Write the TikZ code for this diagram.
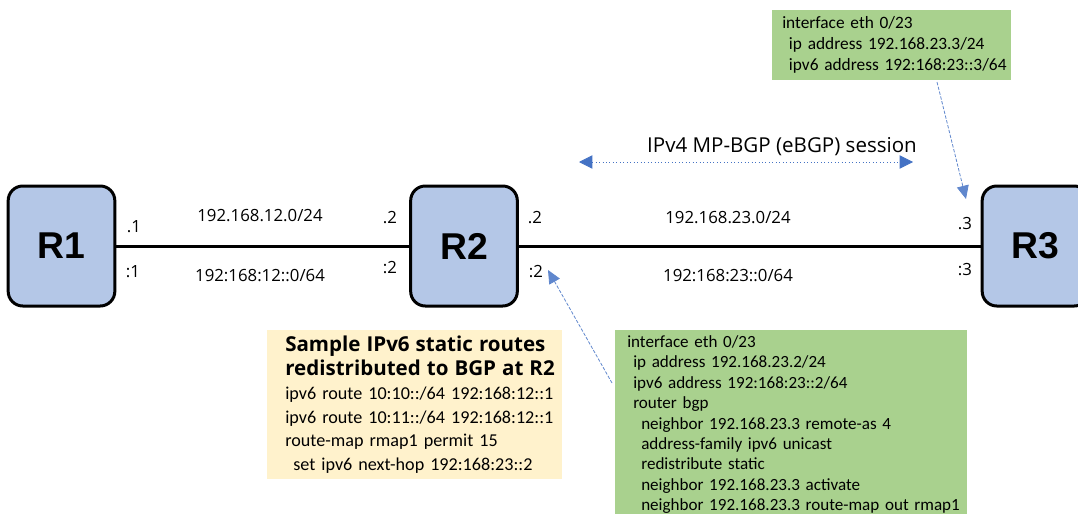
\documentclass[tikz,border=0pt]{standalone}
\usepackage{fontspec}
\usepackage{tikz}
\usetikzlibrary{arrows.meta}
\newfontfamily\lblfont{Open Sans}
\newfontfamily\cfgfont{Carlito}
\newfontfamily\rtrfont{Liberation Sans}

\definecolor{routerblue}{HTML}{B4C7E7}
\definecolor{cfggreen}{HTML}{A9D18E}
\definecolor{noteyellow}{HTML}{FFF2CC}
\definecolor{arrowblue}{HTML}{4472C4}

\tikzset{
  router/.style={draw=black, line width=2.25pt, fill=routerblue, rounded corners=11pt,
    minimum width=80pt, minimum height=90pt, font=\rtrfont\bfseries\fontsize{28}{30}\selectfont},
  lbl/.style={font=\lblfont\fontsize{12.6}{14}\selectfont, inner sep=0pt},
  cfgbox/.style={fill=cfggreen, anchor=north west, align=left, inner ysep=5pt, inner xsep=1pt,
    font=\cfgfont\fontsize{13}{15.5}\selectfont},
  notebox/.style={fill=noteyellow, anchor=north west, align=left, inner ysep=4.5pt, inner xsep=1pt,
    font=\cfgfont\fontsize{13.6}{17.8}\selectfont},
  link/.style={black, line width=2.25pt},
  session/.style={arrowblue, dotted, line width=0.6pt,
    {Triangle[length=10pt,width=10pt]}-{Triangle[length=10pt,width=10pt]}},
  pointer/.style={arrowblue!85, dashed, dash pattern=on 2.5pt off 1.2pt, line width=0.6pt,
    -{Triangle[length=10pt,width=9pt]}}
}

\begin{document}
\begin{tikzpicture}[x=0.75pt,y=-0.75pt]
\useasboundingbox (0,0) rectangle (1078,514);

% routers
\node[router] (r1) at (61.5,246) {R1};
\node[router] (r2) at (464,246) {R2};
\node[router] (r3) at (1035.5,246) {R3};

\draw[link] (r1) -- (r2);
\draw[link] (r2) -- (r3);

% R1 - R2 subnet
\node[lbl] (r1v4) at (134,227) {.1};
\node[lbl] (r1v6) at (133,272) {:1};
\node[lbl] (net12v4) at (260,216) {192.168.12.0/24};
\node[lbl] (net12v6) at (260,276) {192:168:12::0/64};
\node[lbl] (r2v4a) at (390,218) {.2};
\node[lbl] (r2v6a) at (390,268) {:2};

% R2 - R3 subnet
\node[lbl] (r2v4b) at (535,218) {.2};
\node[lbl] (r2v6b) at (536,272) {:2};
\node[lbl] (net23v4) at (728,218) {192.168.23.0/24};
\node[lbl] (net23v6) at (728,276) {192:168:23::0/64};
\node[lbl] (r3v4) at (965,224) {.3};
\node[lbl] (r3v6) at (965,270) {:3};

% BGP session
\node[lbl, font=\lblfont\fontsize{15.4}{17}\selectfont] (bgp) at (782,147) {IPv4 MP-BGP (eBGP) session};
\coordinate (bgpl) at (579,162);
\coordinate (bgpr) at (913,162);
\draw[session] (bgpl) -- (bgpr);

% R3 config
\node[cfgbox, text width=177pt] (cfgr3) at (772,10)
  {\leftskip=6.5pt interface eth 0/23\\
   \hspace*{5pt}ip address 192.168.23.3/24\\
   \hspace*{5pt}ipv6 address 192:168:23::3/64\par};
\coordinate (cfgr3tail) at (937,82);
\coordinate (r3tip) at (966,199);
\draw[pointer] (cfgr3tail) -- (r3tip);

% R2 config
\node[cfgbox, text width=262pt, inner ysep=4pt, font=\cfgfont\fontsize{12.8}{15.3}\selectfont] (cfgr2) at (615,330)
  {\leftskip=8pt interface eth 0/23\\
   \hspace*{4.5pt}ip address 192.168.23.2/24\\
   \hspace*{4.5pt}ipv6 address 192:168:23::2/64\\
   \hspace*{4.5pt}router bgp\\
   \hspace*{10.5pt}neighbor 192.168.23.3 remote-as 4\\
   \hspace*{10.5pt}address-family ipv6 unicast\\
   \hspace*{10.5pt}redistribute static\\
   \hspace*{10.5pt}neighbor 192.168.23.3 activate\\
   \hspace*{10.5pt}neighbor 192.168.23.3 route-map out rmap1\par};
\coordinate (cfgr2tail) at (612,383);
\coordinate (r2tip) at (548,270);
\draw[pointer] (cfgr2tail) -- (r2tip);

% static routes note
\node[notebox, text width=219pt] (note) at (267,330)
  {\leftskip=12.5pt
   {\lblfont\bfseries\fontsize{15.4}{18.8}\selectfont Sample IPv6 static routes\\
   redistributed to BGP at R2}\\
   ipv6 route 10:10::/64 192:168:12::1\\
   ipv6 route 10:11::/64 192:168:12::1\\
   route-map rmap1 permit 15\\
   \hspace*{6pt}set ipv6 next-hop 192:168:23::2\par};
\end{tikzpicture}
\end{document}
